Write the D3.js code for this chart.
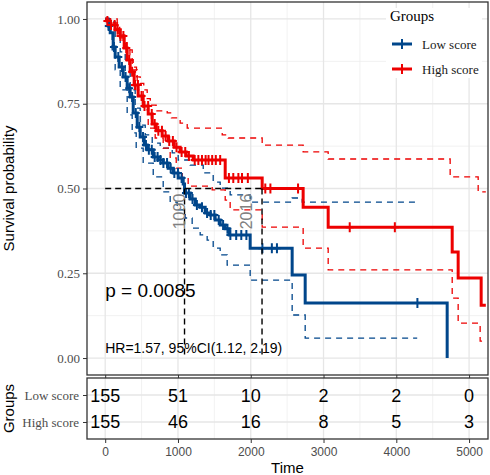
<!DOCTYPE html>
<html><head><meta charset="utf-8">
<script src="https://cdn.jsdelivr.net/npm/d3@7"></script>
<style>body{margin:0;background:#fff}svg{display:block}</style>
</head><body><svg id="c" width="490" height="475"></svg>
<script>
const groups = ["Low score", "High score"];
const colors = ["#00468B", "#ED0000"];
const timeTicks = [0, 1000, 2000, 3000, 4000, 5000];
const survTicks = [0, 0.25, 0.5, 0.75, 1];
const riskLow = [155, 51, 10, 2, 2, 0];
const riskHigh = [155, 46, 16, 8, 5, 3];
const pText = "p = 0.0085";
const hrText = "HR=1.57, 95%CI(1.12, 2.19)";
const medianTimes = [1090, 2155];
const medianLabels = ["1090", "2016"];
const medianLabelPos = [1090, 2016];

const lowTime = [0,41,69,110,137,192,247,302,343,385,440,481,536,577,660,728,797,866,934,1003,1072,1090,1168,1237,1305,1374,1443,1511,1580,1649,1704,1992,2569,2748,4699];
const lowSurv = [1,0.979,0.959,0.917,0.888,0.858,0.829,0.796,0.770,0.723,0.681,0.652,0.628,0.614,0.593,0.584,0.575,0.560,0.546,0.531,0.513,0.487,0.469,0.451,0.445,0.428,0.422,0.407,0.392,0.381,0.363,0.324,0.245,0.162,0];
const highTime = [0,27,69,137,206,261,302,343,398,453,522,591,646,701,783,866,948,1030,1113,1209,1649,2157,2720,3064,4768,4850,5166,5230];
const highSurv = [1,0.994,0.982,0.968,0.950,0.914,0.879,0.844,0.805,0.773,0.743,0.720,0.690,0.670,0.655,0.640,0.622,0.608,0.596,0.584,0.531,0.500,0.445,0.386,0.313,0.236,0.156,0.156];

const lowUpperTime = [0,69,137,206,275,343,412,481,550,646,756,921,1003,1168,1347,1484,1580,1717,1992,2569,2707,4287];
const lowUpper = [1,0.991,0.944,0.903,0.844,0.791,0.737,0.687,0.658,0.634,0.619,0.605,0.584,0.569,0.546,0.519,0.501,0.481,0.460,0.472,0.460,0.460];
const lowLowerTime = [0,41,96,137,206,302,371,426,522,660,797,893,989,1099,1195,1305,1401,1484,1580,1676,1992,2569,2748,4287];
const lowLower = [1,0.968,0.909,0.850,0.791,0.717,0.664,0.619,0.575,0.534,0.490,0.460,0.437,0.413,0.383,0.363,0.348,0.324,0.304,0.274,0.230,0.127,0.059,0.059];
const highUpperTime = [0,165,200,260,302,340,385,430,481,530,577,620,700,852,910,1030,1127,1608,1690,2157,2720,3064,4740,5125,5230];
const highUpper = [1,0.975,0.953,0.930,0.917,0.880,0.858,0.829,0.810,0.791,0.765,0.746,0.729,0.723,0.708,0.693,0.678,0.658,0.649,0.628,0.608,0.587,0.534,0.490,0.490];
const highLowerTime = [0,110,179,275,371,440,522,591,687,797,893,976,1058,1140,1470,1649,1717,2157,2720,3064,4768,4850,5152,5230];
const highLower = [1,0.988,0.944,0.909,0.850,0.791,0.732,0.678,0.649,0.619,0.590,0.560,0.531,0.507,0.496,0.466,0.437,0.386,0.324,0.260,0.177,0.103,0.050,0.050];

const lowCensor = [50,120,180,230,280,330,370,420,470,520,560,600,640,680,720,760,800,850,900,950,1000,1050,1110,1150,1200,1260,1330,1400,1450,1500,1560,1620,1680,1720,1800,1870,1940,2160,2290,2360,4290];
const highCensor = [30,80,130,170,210,250,290,330,370,410,450,500,540,590,640,680,730,780,830,880,930,980,1050,1100,1150,1230,1280,1330,1380,1420,1470,1520,1580,1700,1760,1830,1880,1960,2200,2270,2650,3360,3980];

const svg = d3.select("#c");
const L = 87, R = 488, T = 2, B = 375, RT = 378, RB = 439;
const x = d3.scaleLinear().domain([-250, 5260]).range([L, R]);
const y = d3.scaleLinear().domain([-0.05, 1.05]).range([B, T]);
const yr = d3.scalePoint().domain(groups).range([RT, RB]).padding(0.63);
const serif = "'Liberation Serif','Times New Roman',serif";
const sans = "'Liberation Sans',Arial,sans-serif";

// main panel background & grid
const g = svg.append("g");
g.append("rect").attr("x", L).attr("y", T).attr("width", R - L).attr("height", B - T).attr("fill", "#fff");
const minorX = d3.range(-0, 5500, 500).filter(v => v % 1000 !== 0 && x(v) < R);
const minorY = [0.125, 0.375, 0.625, 0.875];
g.selectAll(".mx").data(minorX).join("line").attr("x1", d => x(d)).attr("x2", d => x(d)).attr("y1", T).attr("y2", B).attr("stroke", "#ebebeb").attr("stroke-width", 0.7);
g.selectAll(".my").data(minorY).join("line").attr("x1", L).attr("x2", R).attr("y1", d => y(d)).attr("y2", d => y(d)).attr("stroke", "#ebebeb").attr("stroke-width", 0.7);
g.selectAll(".Mx").data(timeTicks).join("line").attr("x1", d => x(d)).attr("x2", d => x(d)).attr("y1", T).attr("y2", B).attr("stroke", "#e6e6e6").attr("stroke-width", 1.3);
g.selectAll(".My").data(survTicks).join("line").attr("x1", L).attr("x2", R).attr("y1", d => y(d)).attr("y2", d => y(d)).attr("stroke", "#e6e6e6").attr("stroke-width", 1.3);

svg.append("clipPath").attr("id", "clp").append("rect").attr("x", L).attr("y", T).attr("width", R - L).attr("height", B - T);
const plot = svg.append("g").attr("clip-path", "url(#clp)");

const line = d3.line().x(d => x(d[0])).y(d => y(d[1])).curve(d3.curveStepAfter);
const zip = (a, b) => a.map((t, i) => [t, b[i]]);

// CI
[[lowUpperTime, lowUpper, 0], [lowLowerTime, lowLower, 0], [highUpperTime, highUpper, 1], [highLowerTime, highLower, 1]].forEach(([t, s, k]) => {
  plot.append("path").attr("d", line(zip(t, s))).attr("fill", "none").attr("stroke", colors[k]).attr("stroke-width", 1.3).attr("stroke-dasharray", "6,5");
});
// main curves
const mains = [[lowTime, lowSurv], [highTime, highSurv]];
mains.forEach(([t, s], k) => {
  plot.append("path").attr("d", line(zip(t, s))).attr("fill", "none").attr("stroke", colors[k]).attr("stroke-width", 3);
});
// censor marks
function survAt(times, surv, t) { const i = d3.bisectRight(times, t) - 1; return surv[Math.max(0, i)]; }
[lowCensor, highCensor].forEach((cs, k) => {
  const [tt, ss] = mains[k];
  cs.forEach(c => {
    const cx = x(c), cy = y(survAt(tt, ss, c));
    plot.append("path").attr("d", `M${cx - 4},${cy}H${cx + 4}M${cx},${cy - 5}V${cy + 5}`).attr("stroke", colors[k]).attr("stroke-width", 2);
  });
});
// median lines
plot.append("line").attr("x1", x(0)).attr("x2", x(d3.max(medianTimes))).attr("y1", y(0.5)).attr("y2", y(0.5)).attr("stroke", "#000").attr("stroke-width", 1.4).attr("stroke-dasharray", "6,4");
medianTimes.forEach(m => {
  plot.append("line").attr("x1", x(m)).attr("x2", x(m)).attr("y1", y(0.5)).attr("y2", y(0)).attr("stroke", "#000").attr("stroke-width", 1.4).attr("stroke-dasharray", "6,4");
});
medianLabels.forEach((lab, i) => {
  const px = x(medianLabelPos[i]), py = y(0.5) + 23;
  svg.append("text").attr("transform", `translate(${px},${py}) rotate(-90)`).attr("text-anchor", "middle").attr("font-family", sans).attr("font-size", 16).attr("fill", "#808080").text(lab);
});
// annotations
svg.append("text").attr("x", x(0)).attr("y", 297).attr("font-family", sans).attr("font-size", 19).attr("fill", "#000").text(pText);
svg.append("text").attr("x", x(0)).attr("y", 353).attr("font-family", sans).attr("font-size", 14).attr("fill", "#000").text(hrText);

// main border
svg.append("rect").attr("x", L).attr("y", T).attr("width", R - L).attr("height", B - T).attr("fill", "none").attr("stroke", "#333").attr("stroke-width", 1.3);

// y axis
const ya = svg.append("g").attr("transform", `translate(${L},0)`).call(d3.axisLeft(y).tickValues(survTicks).tickFormat(d3.format(".2f")).tickSize(4).tickPadding(3));
ya.select(".domain").remove();
ya.selectAll("line").attr("stroke", "#333");
ya.selectAll("text").attr("font-family", serif).attr("font-size", 13).attr("fill", "#4d4d4d");
const xa0 = svg.append("g").attr("transform", `translate(0,${B})`).call(d3.axisBottom(x).tickValues(timeTicks).tickSize(3).tickFormat(""));
xa0.select(".domain").remove();
xa0.selectAll("line").attr("stroke", "#333");

svg.append("text").attr("transform", `translate(14,${(T + B) / 2}) rotate(-90)`).attr("text-anchor", "middle").attr("font-family", sans).attr("font-size", 15).text("Survival probability");

// legend
const lg = svg.append("g");
lg.append("rect").attr("x", 386).attr("y", 8).attr("width", 96).attr("height", 70).attr("fill", "#fff");
lg.append("text").attr("x", 390).attr("y", 21).attr("font-family", serif).attr("font-size", 15).text("Groups");
groups.forEach((gname, i) => {
  const ly = 44 + i * 25;
  lg.append("line").attr("x1", 392).attr("x2", 412).attr("y1", ly).attr("y2", ly).attr("stroke", colors[i]).attr("stroke-width", 3);
  lg.append("path").attr("d", `M398,${ly}H406M402,${ly - 5}V${ly + 5}`).attr("stroke", colors[i]).attr("stroke-width", 2);
  lg.append("text").attr("x", 422).attr("y", ly + 4.5).attr("font-family", serif).attr("font-size", 13).attr("fill", "#1a1a1a").text(gname);
});

// risk table
const rt = svg.append("g");
rt.append("rect").attr("x", L).attr("y", RT).attr("width", R - L).attr("height", RB - RT).attr("fill", "#fff");
rt.selectAll(".rmx").data(minorX).join("line").attr("x1", d => x(d)).attr("x2", d => x(d)).attr("y1", RT).attr("y2", RB).attr("stroke", "#ebebeb").attr("stroke-width", 0.7);
rt.selectAll(".rMx").data(timeTicks).join("line").attr("x1", d => x(d)).attr("x2", d => x(d)).attr("y1", RT).attr("y2", RB).attr("stroke", "#e6e6e6").attr("stroke-width", 1.3);
rt.selectAll(".rMy").data(groups).join("line").attr("x1", L).attr("x2", R).attr("y1", d => yr(d)).attr("y2", d => yr(d)).attr("stroke", "#e6e6e6").attr("stroke-width", 1.3);
[riskLow, riskHigh].forEach((arr, k) => {
  rt.selectAll(null).data(arr).join("text").attr("x", (d, i) => x(timeTicks[i])).attr("y", yr(groups[k]) + 6.5).attr("text-anchor", "middle").attr("font-family", sans).attr("font-size", 18).attr("fill", "#000").text(d => d);
});
rt.append("rect").attr("x", L).attr("y", RT).attr("width", R - L).attr("height", RB - RT).attr("fill", "none").attr("stroke", "#333").attr("stroke-width", 1.3);
const ry = svg.append("g").attr("transform", `translate(${L},0)`).call(d3.axisLeft(yr).tickSize(4).tickPadding(4));
ry.select(".domain").remove();
ry.selectAll("line").attr("stroke", "#333");
ry.selectAll("text").attr("font-family", serif).attr("font-size", 13).attr("fill", "#4d4d4d");
const xa = svg.append("g").attr("transform", `translate(0,${RB})`).call(d3.axisBottom(x).tickValues(timeTicks).tickSize(4).tickPadding(4).tickFormat(d3.format("d")));
xa.select(".domain").remove();
xa.selectAll("line").attr("stroke", "#333");
xa.selectAll("text").attr("font-family", sans).attr("font-size", 12).attr("fill", "#4d4d4d");
svg.append("text").attr("x", (L + R) / 2).attr("y", 473).attr("text-anchor", "middle").attr("font-family", sans).attr("font-size", 15).text("Time");
svg.append("text").attr("transform", `translate(14,${(RT + RB) / 2}) rotate(-90)`).attr("text-anchor", "middle").attr("font-family", sans).attr("font-size", 15).text("Groups");
</script></body></html>
